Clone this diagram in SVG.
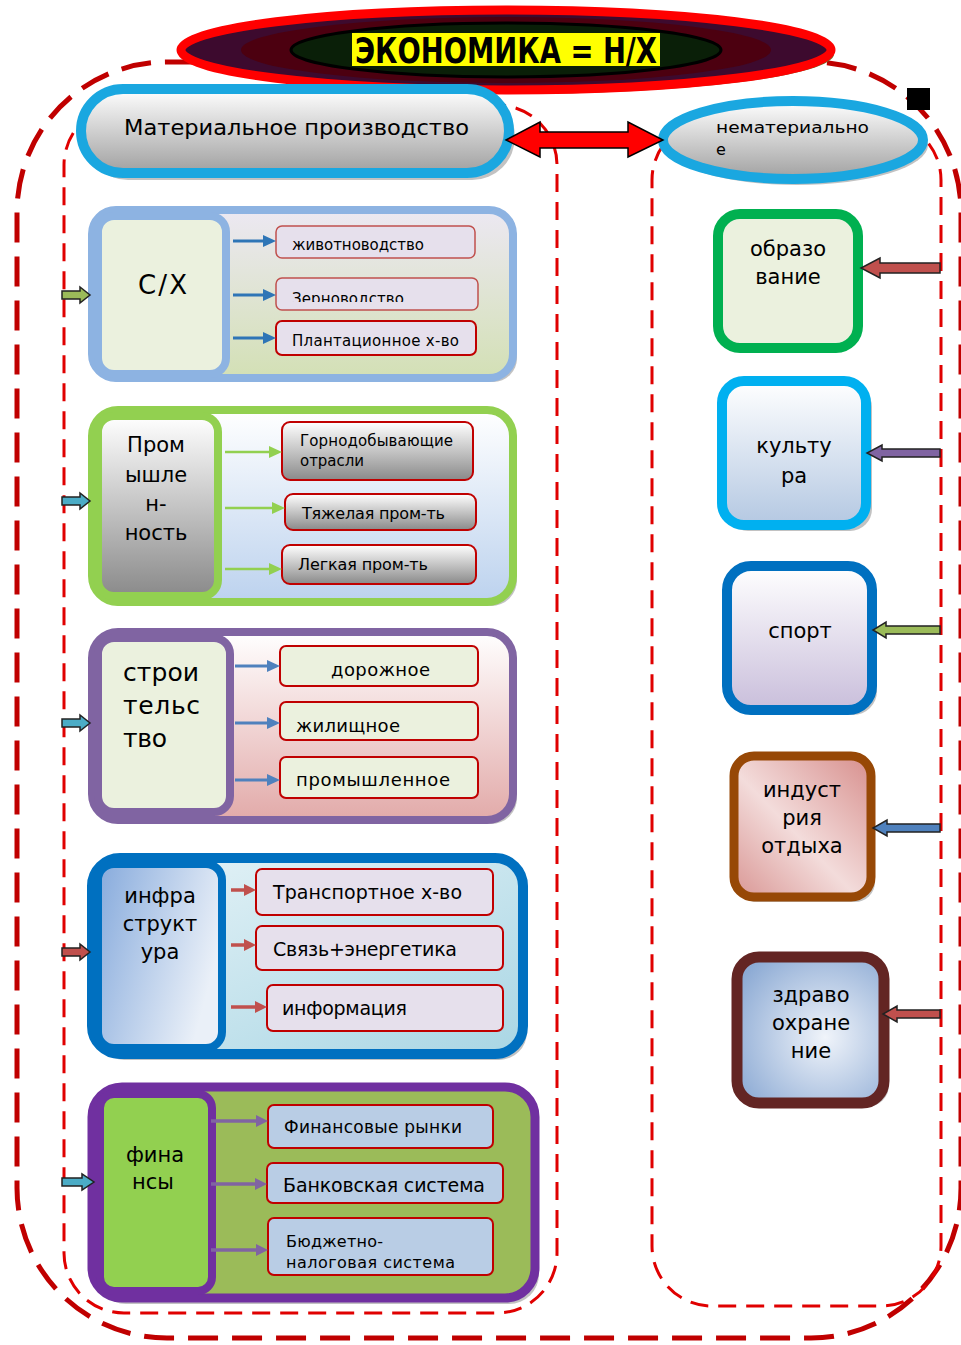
<svg xmlns="http://www.w3.org/2000/svg" width="961" height="1345" viewBox="0 0 961 1345">
<defs>
<style>
text{font-family:"DejaVu Sans","Liberation Sans",Arial,sans-serif;fill:#000}
.t22{font-size:21px}
.t16{font-size:15px}
.ch{stroke:#c00000;stroke-width:2}
.sh{fill:#9a9a9a;opacity:.6}
.blk{stroke:#222;stroke-width:1.5}
</style>
<linearGradient id="gPill" x1="0" y1="0" x2="0" y2="1"><stop offset="0" stop-color="#ffffff"/><stop offset="1" stop-color="#a0a0a0"/></linearGradient>
<linearGradient id="gSx" x1="0" y1="0" x2="0" y2="1"><stop offset="0" stop-color="#ece8f2"/><stop offset="1" stop-color="#d3e0b5"/></linearGradient>
<linearGradient id="gProm" x1="0" y1="0" x2="0" y2="1"><stop offset="0" stop-color="#ffffff"/><stop offset="1" stop-color="#bcd2ee"/></linearGradient>
<linearGradient id="gGrey" x1="0" y1="0" x2="0" y2="1"><stop offset="0" stop-color="#ffffff"/><stop offset="1" stop-color="#8a8a8a"/></linearGradient>
<linearGradient id="gStroy" x1="0" y1="0" x2="0" y2="1"><stop offset="0" stop-color="#ffffff"/><stop offset="1" stop-color="#e2aaa9"/></linearGradient>
<linearGradient id="gInfra" x1="0" y1="0" x2="1" y2="1"><stop offset="0" stop-color="#e8f4f8"/><stop offset="1" stop-color="#a9d6e4"/></linearGradient>
<linearGradient id="gInfraIn" x1="0" y1="0" x2="1" y2="0.4"><stop offset="0" stop-color="#86aadc"/><stop offset="1" stop-color="#eaf0f8"/></linearGradient>
<linearGradient id="gCult" x1="0" y1="0" x2="0" y2="1"><stop offset="0" stop-color="#ffffff"/><stop offset="1" stop-color="#b4c8e2"/></linearGradient>
<linearGradient id="gSport" x1="0" y1="0" x2="0" y2="1"><stop offset="0" stop-color="#ffffff"/><stop offset="1" stop-color="#c9bedb"/></linearGradient>
<linearGradient id="gOtd" x1="1" y1="0" x2="0" y2="1"><stop offset="0" stop-color="#d78e8c"/><stop offset="0.55" stop-color="#f3dcdb"/><stop offset="1" stop-color="#d99694"/></linearGradient>
<radialGradient id="gZdr" cx="0.6" cy="0.55" r="0.7"><stop offset="0" stop-color="#f0f4fa"/><stop offset="1" stop-color="#8caad4"/></radialGradient>
<clipPath id="clipZ"><rect x="276" y="278" width="202" height="24"/></clipPath>
</defs>

<!-- frames -->
<g id="frames" fill="none">
<rect x="17" y="62" width="944" height="1276" rx="150" stroke="#c00000" stroke-width="5" stroke-dasharray="30 14"/>
<rect x="64" y="105" width="493" height="1208" rx="60" stroke="#e00000" stroke-width="3" stroke-dasharray="18 10"/>
<rect x="652" y="120" width="289" height="1186" rx="60" stroke="#e00000" stroke-width="3" stroke-dasharray="18 10"/>
</g>

<!-- title -->
<g id="title">
<ellipse cx="509" cy="54" rx="325" ry="40" fill="#6b6b2a"/>
<ellipse cx="506" cy="50" rx="325" ry="40" fill="#3d0a2e" stroke="#ff0000" stroke-width="9"/>
<ellipse cx="506" cy="50" rx="265" ry="33" fill="#4c0010"/>
<ellipse cx="506" cy="50" rx="215" ry="27" fill="#0a1f08" stroke="#000" stroke-width="3"/>
<rect x="352" y="33" width="308" height="33" fill="#ffff00"/>
<text x="355" y="63" font-size="36" font-weight="bold" font-family="Liberation Sans, Arial, sans-serif" textLength="302" lengthAdjust="spacingAndGlyphs">ЭКОНОМИКА = Н/Х</text>
</g>

<rect id="blacksq" x="907" y="88" width="23" height="22" fill="#000"/>

<!-- material -->
<g id="material">
<rect x="85" y="94" width="430" height="86" rx="43" class="sh"/>
<rect x="81" y="89" width="428" height="84" rx="42" fill="url(#gPill)" stroke="#1aa7e0" stroke-width="10"/>
<text x="124" y="135" font-size="21" textLength="345" lengthAdjust="spacingAndGlyphs">Материальное производство</text>
</g>

<!-- nonmaterial -->
<g id="nonmaterial">
<ellipse cx="797" cy="145" rx="131" ry="40" class="sh"/>
<ellipse cx="793" cy="140" rx="130" ry="39" fill="url(#gPill)" stroke="#1aa7e0" stroke-width="10"/>
<text x="716" y="133" font-size="16" textLength="153" lengthAdjust="spacingAndGlyphs">нематериально</text>
<text x="716" y="155" font-size="16">е</text>
</g>

<!-- double arrow -->
<g id="dblarrow">
<polygon points="506,140 540,122 540,132 628,132 628,122 663,140 628,157 628,148 540,148 540,157" fill="#ff0000" stroke="#000" stroke-width="1.5"/>
</g>

<!-- С/Х -->
<g id="sx">
<rect x="96" y="214" width="421" height="168" rx="24" class="sh"/>
<rect x="92" y="210" width="421" height="168" rx="24" fill="url(#gSx)" stroke="#8db3e2" stroke-width="8"/>
<rect x="98" y="216" width="128" height="158" rx="16" fill="#ebf1de" stroke="#8db3e2" stroke-width="8"/>
<text x="138" y="294" font-size="26" textLength="49">С/Х</text>
<rect x="276" y="226" width="199" height="32" rx="6" fill="#e6e0ec" stroke="#c0504d" stroke-width="1.5"/>
<text x="292" y="250" class="t16" textLength="132">животноводство</text>
<rect x="276" y="278" width="202" height="32" rx="6" fill="#e6e0ec" stroke="#c0504d" stroke-width="1.5"/>
<text x="292" y="304" class="t16" textLength="112" clip-path="url(#clipZ)">Зерноводство</text>
<rect x="276" y="321" width="200" height="34" rx="6" fill="#e6e0ec" stroke="#c00000" stroke-width="2"/>
<text x="292" y="346" class="t16" textLength="167">Плантационное х-во</text>
</g>

<!-- Промышленность -->
<g id="prom">
<rect x="96" y="414" width="421" height="192" rx="26" class="sh"/>
<rect x="92" y="410" width="421" height="192" rx="26" fill="url(#gProm)" stroke="#92d050" stroke-width="8"/>
<rect x="98" y="416" width="120" height="180" rx="16" fill="url(#gGrey)" stroke="#92d050" stroke-width="8"/>
<g class="t22" text-anchor="middle">
<text x="156" y="452">Пром</text>
<text x="156" y="482">ышле</text>
<text x="156" y="511">н-</text>
<text x="156" y="540">ность</text>
</g>
<rect x="282" y="422" width="191" height="58" rx="8" fill="url(#gGrey)" class="ch"/>
<text x="300" y="446" class="t16" textLength="153">Горнодобывающие</text>
<text x="300" y="466" class="t16" textLength="64">отрасли</text>
<rect x="285" y="494" width="191" height="36" rx="8" fill="url(#gGrey)" class="ch"/>
<text x="302" y="519" font-size="16" textLength="143">Тяжелая  пром-ть</text>
<rect x="282" y="545" width="194" height="39" rx="8" fill="url(#gGrey)" class="ch"/>
<text x="298" y="570" font-size="16" textLength="130">Легкая  пром-ть</text>
</g>

<!-- строительство -->
<g id="stroy">
<rect x="96" y="636" width="421" height="188" rx="26" class="sh"/>
<rect x="92" y="632" width="421" height="188" rx="26" fill="url(#gStroy)" stroke="#8064a2" stroke-width="8"/>
<rect x="98" y="638" width="132" height="174" rx="16" fill="#ebf1de" stroke="#8064a2" stroke-width="8"/>
<g font-size="25">
<text x="123" y="681" textLength="76">строи</text>
<text x="123" y="714" textLength="77">тельс</text>
<text x="123" y="747" textLength="44">тво</text>
</g>
<rect x="280" y="646" width="198" height="40" rx="6" fill="#ebf1de" class="ch"/>
<text x="331" y="676" font-size="18" textLength="99">дорожное</text>
<rect x="280" y="702" width="198" height="38" rx="6" fill="#ebf1de" class="ch"/>
<text x="296" y="732" font-size="18" textLength="104">жилищное</text>
<rect x="280" y="757" width="198" height="41" rx="6" fill="#ebf1de" class="ch"/>
<text x="296" y="786" font-size="18" textLength="154">промышленное</text>
</g>

<!-- инфраструктура -->
<g id="infra">
<rect x="96" y="862" width="431" height="198" rx="28" class="sh"/>
<rect x="92" y="858" width="431" height="196" rx="28" fill="url(#gInfra)" stroke="#0070c0" stroke-width="10"/>
<rect x="98" y="864" width="124" height="184" rx="16" fill="url(#gInfraIn)" stroke="#0070c0" stroke-width="8"/>
<g class="t22" text-anchor="middle">
<text x="160" y="903">инфра</text>
<text x="160" y="931">структ</text>
<text x="160" y="959">ура</text>
</g>
<rect x="256" y="869" width="237" height="46" rx="6" fill="#e6e0ec" class="ch"/>
<text x="273" y="899" font-size="19" textLength="189">Транспортное х-во</text>
<rect x="256" y="926" width="247" height="44" rx="6" fill="#e6e0ec" class="ch"/>
<text x="273" y="956" font-size="19" textLength="184">Связь+энергетика</text>
<rect x="267" y="985" width="236" height="46" rx="6" fill="#e6e0ec" class="ch"/>
<text x="282" y="1015" font-size="19" textLength="125">информация</text>
</g>

<!-- финансы -->
<g id="fin">
<rect x="96" y="1091" width="443" height="213" rx="30" class="sh"/>
<rect x="92" y="1087" width="443" height="211" rx="30" fill="#9bbb59" stroke="#7030a0" stroke-width="9"/>
<rect x="100" y="1094" width="112" height="197" rx="14" fill="#92d050" stroke="#7030a0" stroke-width="8"/>
<g class="t22" text-anchor="middle">
<text x="155" y="1162">фина</text>
<text x="153" y="1189">нсы</text>
</g>
<rect x="268" y="1105" width="225" height="43" rx="6" fill="#b9cde5" class="ch"/>
<text x="284" y="1133" font-size="17" textLength="178">Финансовые рынки</text>
<rect x="267" y="1163" width="236" height="40" rx="6" fill="#b9cde5" class="ch"/>
<text x="283" y="1192" font-size="19" textLength="202">Банковская система</text>
<rect x="268" y="1218" width="225" height="57" rx="6" fill="#b9cde5" class="ch"/>
<text x="286" y="1247" font-size="16" textLength="97">Бюджетно-</text>
<text x="286" y="1268" font-size="16" textLength="169">налоговая система</text>
</g>

<!-- right nodes -->
<g id="obraz">
<rect x="718" y="214" width="140" height="134" rx="22" fill="#ebf1de" stroke="#00b050" stroke-width="10"/>
<g class="t22" text-anchor="middle"><text x="788" y="256">образо</text><text x="788" y="284">вание</text></g>
</g>
<g id="cult">
<rect x="726" y="385" width="146" height="146" rx="22" class="sh"/>
<rect x="722" y="381" width="144" height="144" rx="22" fill="url(#gCult)" stroke="#00b0f0" stroke-width="10"/>
<g class="t22" text-anchor="middle"><text x="794" y="453">культу</text><text x="794" y="483">ра</text></g>
</g>
<g id="sport">
<rect x="731" y="570" width="146" height="145" rx="24" class="sh"/>
<rect x="727" y="566" width="145" height="144" rx="24" fill="url(#gSport)" stroke="#0070c0" stroke-width="10"/>
<text x="800" y="638" class="t22" text-anchor="middle">спорт</text>
</g>
<g id="otdyh">
<rect x="737" y="760" width="138" height="142" rx="20" class="sh"/>
<rect x="734" y="756" width="137" height="141" rx="20" fill="url(#gOtd)" stroke="#974806" stroke-width="9"/>
<g class="t22" text-anchor="middle"><text x="802" y="797">индуст</text><text x="802" y="825">рия</text><text x="802" y="853">отдыха</text></g>
</g>
<g id="zdrav">
<rect x="741" y="961" width="148" height="146" rx="22" class="sh"/>
<rect x="737" y="957" width="147" height="146" rx="22" fill="url(#gZdr)" stroke="#632523" stroke-width="11"/>
<g class="t22" text-anchor="middle"><text x="811" y="1002">здраво</text><text x="811" y="1030">охране</text><text x="811" y="1058">ние</text></g>
</g>

<!-- connectors -->
<g id="connectors">
<g stroke="#2e75b6" stroke-width="3" fill="#2e75b6">
<line x1="233" y1="241" x2="264" y2="241"/><polygon points="276,241 263,235 263,247" stroke="none"/>
<line x1="233" y1="295" x2="264" y2="295"/><polygon points="276,295 263,289 263,301" stroke="none"/>
<line x1="233" y1="338" x2="264" y2="338"/><polygon points="276,338 263,332 263,344" stroke="none"/>
</g>
<g stroke="#92d050" stroke-width="2.5" fill="#92d050">
<line x1="225" y1="452" x2="270" y2="452"/><polygon points="282,452 269,446 269,458" stroke="none"/>
<line x1="225" y1="508" x2="273" y2="508"/><polygon points="285,508 272,502 272,514" stroke="none"/>
<line x1="225" y1="569" x2="270" y2="569"/><polygon points="282,569 269,563 269,575" stroke="none"/>
</g>
<g stroke="#4f81bd" stroke-width="3" fill="#4f81bd">
<line x1="235" y1="666" x2="268" y2="666"/><polygon points="280,666 267,660 267,672" stroke="none"/>
<line x1="235" y1="723" x2="268" y2="723"/><polygon points="280,723 267,717 267,729" stroke="none"/>
<line x1="235" y1="780" x2="268" y2="780"/><polygon points="280,780 267,774 267,786" stroke="none"/>
</g>
<g stroke="#c0504d" stroke-width="3.5" fill="#c0504d">
<line x1="231" y1="890" x2="245" y2="890"/><polygon points="256,890 244,884 244,896" stroke="none"/>
<line x1="231" y1="945" x2="245" y2="945"/><polygon points="256,945 244,939 244,951" stroke="none"/>
<line x1="231" y1="1007" x2="256" y2="1007"/><polygon points="267,1007 255,1001 255,1013" stroke="none"/>
</g>
<g stroke="#8064a2" stroke-width="3.5" fill="#8064a2">
<line x1="211" y1="1121" x2="257" y2="1121"/><polygon points="268,1121 256,1115 256,1127" stroke="none"/>
<line x1="211" y1="1184" x2="256" y2="1184"/><polygon points="267,1184 255,1178 255,1190" stroke="none"/>
<line x1="211" y1="1250" x2="257" y2="1250"/><polygon points="268,1250 256,1244 256,1256" stroke="none"/>
</g>
<polygon class="blk" fill="#9bbb59" points="62,291 80,291 80,287 90,295 80,303 80,299 62,299"/>
<polygon class="blk" fill="#4bacc6" points="62,497 80,497 80,493 90,501 80,509 80,505 62,505"/>
<polygon class="blk" fill="#4bacc6" points="62,719 80,719 80,715 90,723 80,731 80,727 62,727"/>
<polygon class="blk" fill="#c0504d" points="62,948 80,948 80,944 90,952 80,960 80,956 62,956"/>
<polygon class="blk" fill="#4bacc6" points="62,1178 82,1178 82,1174 94,1182 82,1190 82,1186 62,1186"/>
<polygon class="blk" fill="#c0504d" points="940,263 880,263 880,258 861,268 880,278 880,273 940,273"/>
<polygon class="blk" fill="#8064a2" points="940,449 882,449 882,445 867,453 882,461 882,457 940,457"/>
<polygon class="blk" fill="#9bbb59" points="940,626 886,626 886,622 873,630 886,638 886,634 940,634"/>
<polygon class="blk" fill="#4f81bd" points="940,824 887,824 887,820 873,828 887,836 887,832 940,832"/>
<polygon class="blk" fill="#c0504d" points="940,1010 897,1010 897,1006 883,1014 897,1022 897,1018 940,1018"/>
</g>
</svg>
